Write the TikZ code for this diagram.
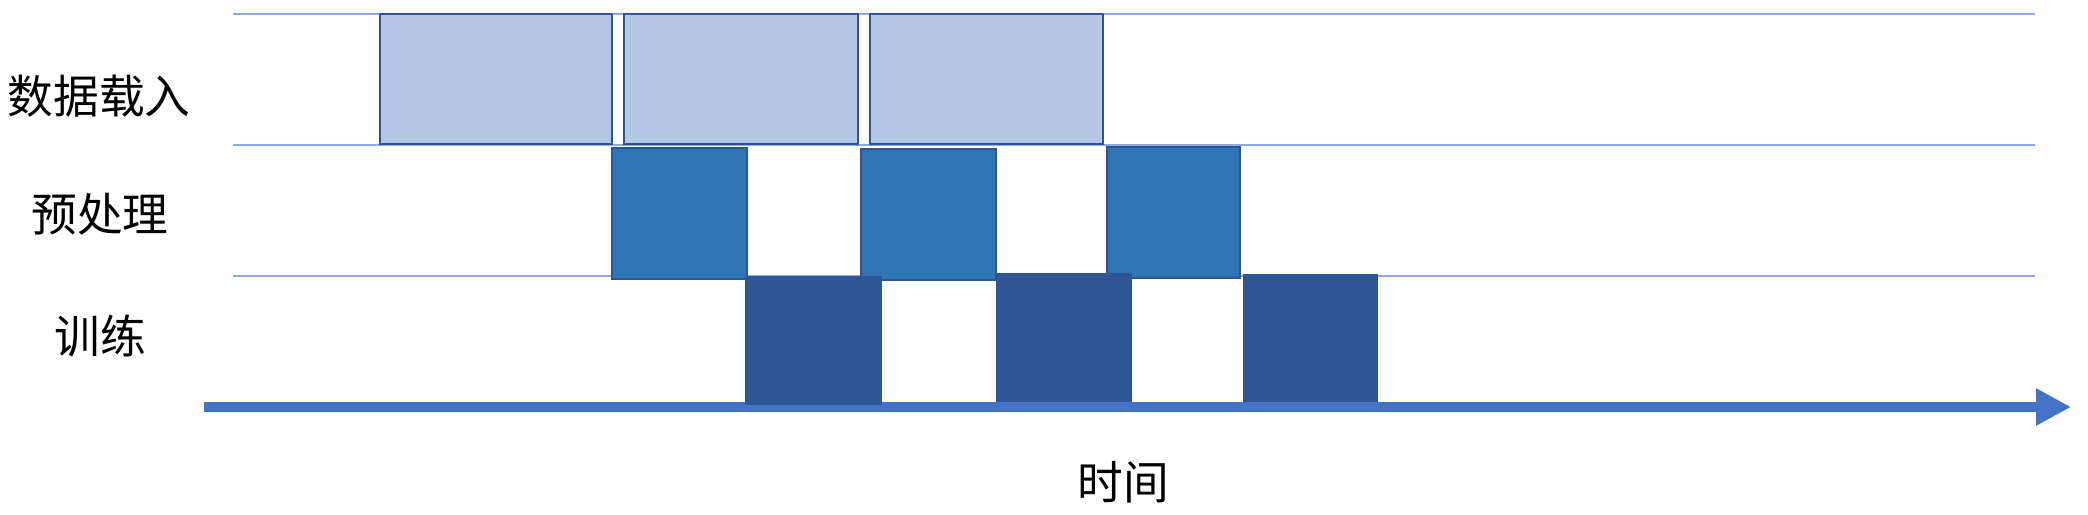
\documentclass[tikz,border=0pt]{standalone}
\usepackage{fontspec}
\newfontfamily\cjk{Noto Sans CJK SC}
\usepackage{xcolor}
\definecolor{gridblue}{RGB}{143,170,220}
\definecolor{loadblue}{RGB}{180,199,231}
\definecolor{prepblue}{RGB}{46,117,182}
\definecolor{trainblue}{RGB}{47,85,151}
\definecolor{edgeblue}{RGB}{47,85,151}
\definecolor{axisblue}{RGB}{68,114,196}
\usetikzlibrary{arrows.meta}

\tikzset{
  rowline/.style={gridblue, line width=0.6pt},
  loadbox/.style={draw=edgeblue, fill=loadblue, line width=0.8pt},
  prepbox/.style={draw=edgeblue, fill=prepblue, line width=0.8pt},
  trainbox/.style={draw=edgeblue, fill=trainblue, line width=0.6pt},
  rowlabel/.style={font=\cjk\fontsize{13}{15}\selectfont, inner sep=0pt},
}

\begin{document}
\begin{tikzpicture}[x=0.01cm, y=-0.01cm]
\useasboundingbox (0,0) rectangle (2088,514);

% --- Row separators ---
\foreach \yy in {14,145,276}
  \draw[rowline] (233,\yy) -- (2035,\yy);

% --- Row labels ---
\node[rowlabel] (load) at (99,96) {数据载入};
\node[rowlabel] (prep) at (100,214) {预处理};
\node[rowlabel] (train) at (100,336) {训练};

% --- Time axis ---
\coordinate (t0) at (204,407);
\coordinate (t1) at (2071,407);
\draw[axisblue, line width=3.1pt, -{Triangle[length=0.35cm, width=0.35cm]}] (t0) -- (t1);
\node[rowlabel] (time) at (1123,482) {时间};

% Data loading
\draw[loadbox] (380,14) rectangle (612,144);
\draw[loadbox] (624,14) rectangle (858,144);
\draw[loadbox] (870,14) rectangle (1103,144);

% Preprocessing
\draw[prepbox] (612,148) rectangle (747,279);
\draw[prepbox] (861,149) rectangle (996,280);
\draw[prepbox] (1107,147) rectangle (1240,278);

% Training
\draw[trainbox] (746,277) rectangle (881,404);
\draw[trainbox] (997,274) rectangle (1131,401);
\draw[trainbox] (1244,275) rectangle (1377,401);

\end{tikzpicture}
\end{document}
